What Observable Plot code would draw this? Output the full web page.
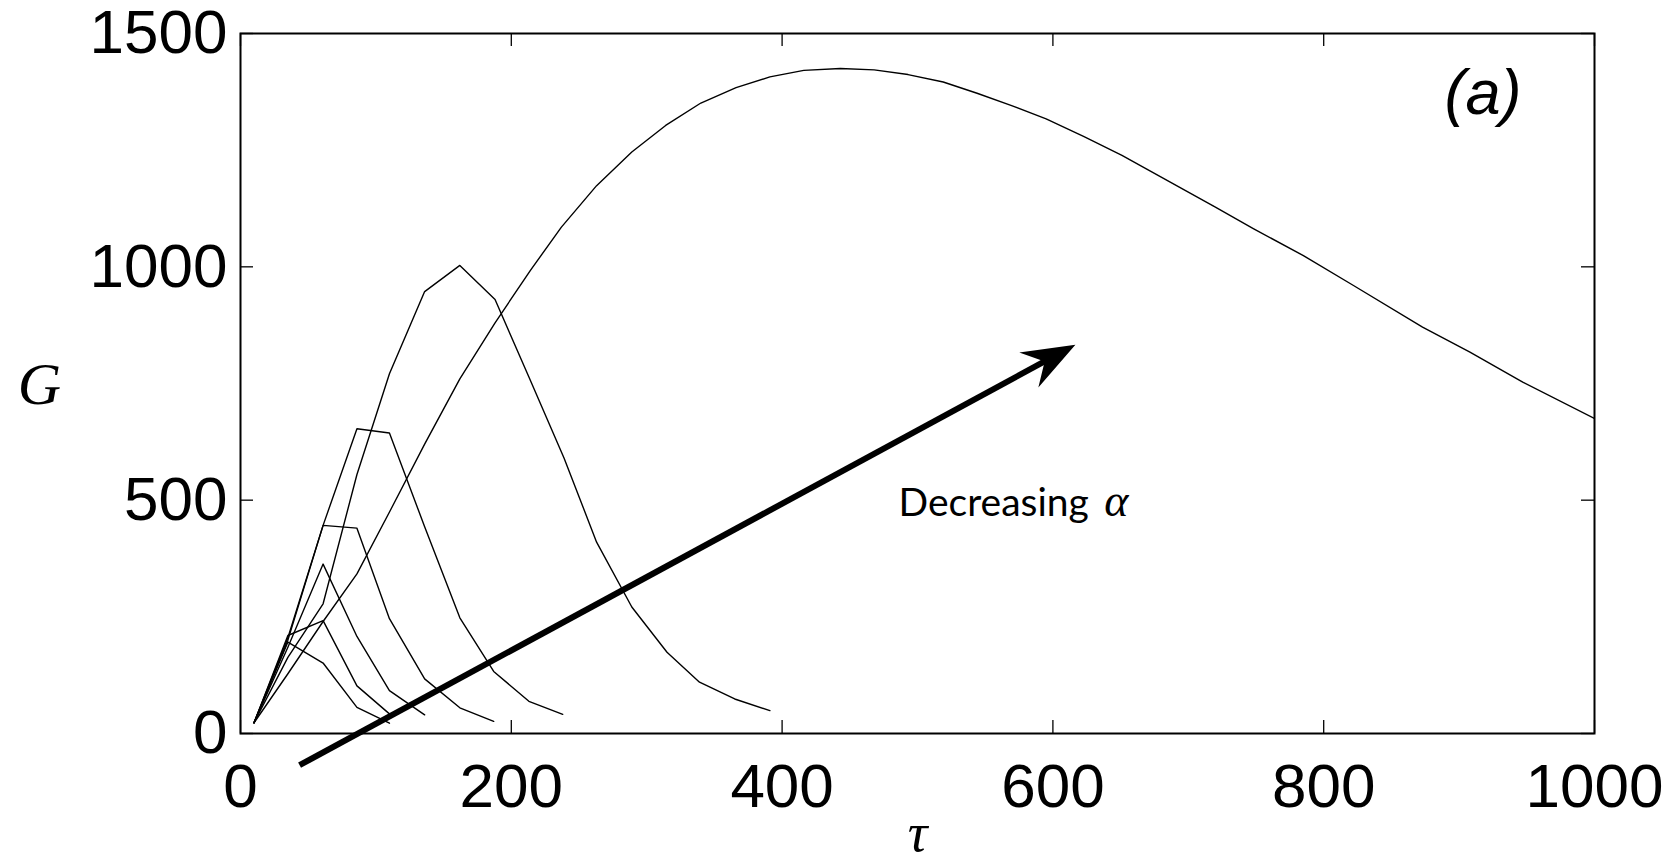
<!DOCTYPE html>
<html>
<head>
<meta charset="utf-8">
<script src="https://cdn.jsdelivr.net/npm/d3@7"></script>
<script src="https://cdn.jsdelivr.net/npm/@observablehq/plot@0.6"></script>
<style>
  html, body { margin: 0; padding: 0; background: white; }
  #chart svg { display: block; }
</style>
</head>
<body>
<div id="chart"></div>
<script>
// ---- data ----
const tauA = [10, 35, 61, 86, 110];
const gA   = [23, 196, 151, 56, 22];
const tauB = [10, 35, 61, 86, 110];
const gB   = [23, 210, 242, 102, 42];
const tauC = [10, 35, 61, 86, 110, 136];
const gC   = [23, 185, 363, 208, 92, 40];
const tauD = [10, 35, 61, 86, 110, 136, 162, 187];
const gD   = [23, 205, 446, 440, 246, 117, 55, 26];
const tauE = [10, 35, 61, 86, 110, 136, 162, 187, 213, 238];
const gE   = [23, 200, 446, 653, 644, 443, 248, 133, 69, 41];
const tauF = [10, 35, 61, 86, 110, 136, 162, 188, 213, 239, 263, 289, 315, 339, 365, 391];
const gF   = [23, 163, 278, 555, 771, 947, 1003, 930, 764, 590, 410, 271, 174, 110, 74, 49];
const tauG = [10, 35, 61, 86, 111, 136, 162, 188, 214, 237, 263, 289, 314, 340, 366, 391, 416, 443, 468, 493, 519, 544, 569, 595, 623, 651, 669, 720, 748, 785, 822, 873, 908, 947, 1000];
const gG   = [23, 128, 240, 342, 480, 620, 760, 880, 992, 1085, 1174, 1246, 1303, 1351, 1384, 1407, 1421, 1425, 1422, 1412, 1396, 1372, 1346, 1317, 1279, 1239, 1210, 1128, 1082, 1024, 960, 871, 817, 753, 675];

const xTicks = [0, 200, 400, 600, 800, 1000];
const yTicks = [0, 500, 1000, 1500];

const arrowFrom = {tau: 44, G: -69};
const arrowTo   = {tau: 617, G: 832};
const annotText = "Decreasing";
const annotSymbol = "α";
const annotAt = {tau: 486, G: 467};
const annotSymbolAt = {tau: 638, G: 467};
const panelLabel = "(a)";
const xLabel = "τ";
const yLabel = "G";

// ---- build table ----
const series = [
  [tauA, gA], [tauB, gB], [tauC, gC], [tauD, gD], [tauE, gE], [tauF, gF], [tauG, gG]
];
const rows = [];
series.forEach(([ts, gs], k) => ts.forEach((t, i) => rows.push({tau: t, G: gs[i], s: k})));

// ---- layout ----
const W = 1678, H = 863;
const mL = 240, mR = 84, mT = 33, mB = 130;
const innerW = W - mL - mR, innerH = H - mT - mB;
const tickLen = 13;

function arrowMark(index, scales) {
  const x0 = scales.x(arrowFrom.tau), y0 = scales.y(arrowFrom.G);
  const x1 = scales.x(arrowTo.tau), y1 = scales.y(arrowTo.G);
  const dx = x1 - x0, dy = y1 - y0, L = Math.hypot(dx, dy);
  const ux = dx / L, uy = dy / L, nx = -uy, ny = ux;
  const headLen = 53, halfW = 20, notch = 35;
  const g = d3.create("svg:g");
  g.append("line")
    .attr("x1", x0).attr("y1", y0)
    .attr("x2", x1 - ux * (notch - 2)).attr("y2", y1 - uy * (notch - 2))
    .attr("stroke", "black").attr("stroke-width", 6);
  const pts = [
    [x1, y1],
    [x1 - ux * headLen + nx * halfW, y1 - uy * headLen + ny * halfW],
    [x1 - ux * notch, y1 - uy * notch],
    [x1 - ux * headLen - nx * halfW, y1 - uy * headLen - ny * halfW]
  ];
  g.append("path").attr("d", "M" + pts.map(p => p.join(",")).join("L") + "Z").attr("fill", "black");
  return g.node();
}

const tickFont = "Liberation Sans, Arial, sans-serif";
const plain = d => String(d);

const chart = Plot.plot({
  width: W, height: H,
  marginLeft: mL, marginRight: mR, marginTop: mT, marginBottom: mB,
  x: {domain: [0, 1000], label: null, axis: null},
  y: {domain: [0, 1500], label: null, axis: null},
  style: {background: "white", fontFamily: tickFont, overflow: "visible"},
  marks: [
    Plot.line(rows, {x: "tau", y: "G", z: "s", stroke: "black", strokeWidth: 1.4, clip: true}),
    // inward ticks on all four sides
    Plot.tickX(xTicks, {x: d => d, insetTop: innerH - tickLen, stroke: "black", strokeWidth: 1.3}),
    Plot.tickX(xTicks, {x: d => d, insetBottom: innerH - tickLen, stroke: "black", strokeWidth: 1.3}),
    Plot.tickY(yTicks, {y: d => d, insetRight: innerW - tickLen, stroke: "black", strokeWidth: 1.3}),
    Plot.tickY(yTicks, {y: d => d, insetLeft: innerW - tickLen, stroke: "black", strokeWidth: 1.3}),
    Plot.frame({stroke: "black", strokeWidth: 2}),
    Plot.axisX(xTicks, {anchor: "bottom", tickSize: 0, tickPadding: 29, tickFormat: plain, fontSize: 62, fontFamily: tickFont, fill: "black", label: null}),
    Plot.axisY(yTicks, {anchor: "left", tickSize: 0, tickPadding: 13, tickFormat: plain, fontSize: 62, fontFamily: tickFont, fill: "black", label: null}),
    arrowMark,
    Plot.text([annotText], {x: () => annotAt.tau, y: () => annotAt.G, text: d => d, textAnchor: "start", lineAnchor: "bottom", fontSize: 39, fontFamily: "Lato, sans-serif", fill: "black"}),
    Plot.text([annotSymbol], {x: () => annotSymbolAt.tau, y: () => annotSymbolAt.G, text: d => d, textAnchor: "start", lineAnchor: "bottom", fontSize: 46, fontStyle: "italic", fontFamily: "Liberation Serif, serif", fill: "black"}),
    Plot.text([panelLabel], {frameAnchor: "top-right", text: d => d, textAnchor: "end", lineAnchor: "bottom", dx: -73, dy: 80, fontSize: 63, fontStyle: "italic", fontFamily: tickFont, fill: "black"}),
    Plot.text([yLabel], {frameAnchor: "left", text: d => d, textAnchor: "middle", lineAnchor: "bottom", dx: -201, dy: 20, fontSize: 60, fontStyle: "italic", fontFamily: "Liberation Serif, serif", fill: "black"}),
    Plot.text([xLabel], {frameAnchor: "bottom", text: d => d, textAnchor: "middle", lineAnchor: "bottom", dy: 117, fontSize: 55, fontStyle: "italic", fontFamily: "Liberation Serif, serif", fill: "black"})
  ]
});
document.getElementById("chart").appendChild(chart);
</script>
</body>
</html>
